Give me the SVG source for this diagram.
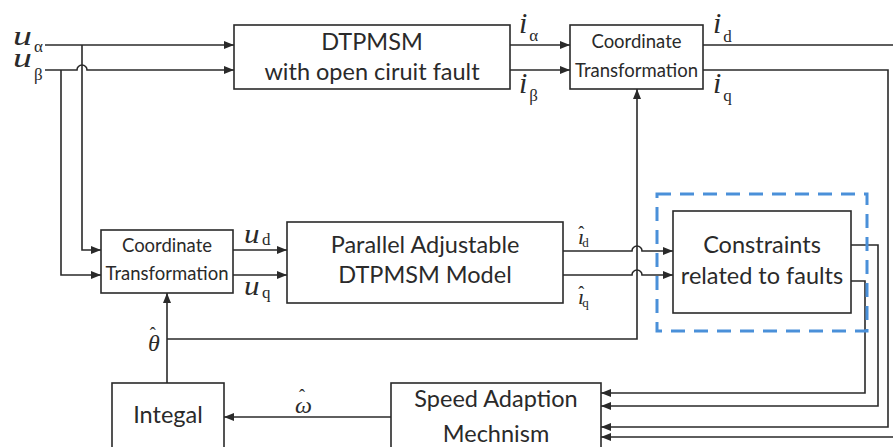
<svg xmlns="http://www.w3.org/2000/svg" width="893" height="447" viewBox="0 0 893 447">
<style>
.box{fill:#fff;stroke:#2a2a2a;stroke-width:1.6}
.ln{fill:none;stroke:#2a2a2a;stroke-width:1.6}
.t{font-family:Lato,"Liberation Sans",sans-serif;font-size:23.5px;fill:#2a2a2a;text-anchor:middle}
.ts{font-family:Lato,"Liberation Sans",sans-serif;font-size:18.5px;fill:#2a2a2a;text-anchor:middle}
.v{font-family:"Liberation Serif",serif;font-style:italic;font-size:30px;fill:#2a2a2a}
.u{font-family:"Liberation Serif",serif;font-style:italic;font-size:27px;fill:#2a2a2a}
.s{font-family:"Liberation Serif",serif;font-style:normal;font-size:17px;fill:#2a2a2a}
.h{font-style:normal;font-size:18px}
</style>
<defs>
<marker id="ar" viewBox="0 0 10 8" refX="10" refY="4" markerWidth="10" markerHeight="8" markerUnits="userSpaceOnUse" orient="auto">
<path d="M0 0L10 4L0 8z" fill="#2a2a2a"/>
</marker>
</defs>
<rect width="893" height="447" fill="#fff"/>
<g id="connectors">
<path class="ln" d="M45 45H234" marker-end="url(#ar)"/>
<path class="ln" d="M45 70H77A5 5 0 0 1 87 70H234" marker-end="url(#ar)"/>
<path class="ln" d="M82 45V250H101" marker-end="url(#ar)"/>
<path class="ln" d="M61 70V275H101" marker-end="url(#ar)"/>
<path class="ln" d="M510 45H570" marker-end="url(#ar)"/>
<path class="ln" d="M510 70H570" marker-end="url(#ar)"/>
<path class="ln" d="M703 45H895V437H601" marker-end="url(#ar)"/>
<path class="ln" d="M703 70H888V427H601" marker-end="url(#ar)"/>
<path class="ln" d="M851 245H878V406H601" marker-end="url(#ar)"/>
<path class="ln" d="M851 281H865V393H601" marker-end="url(#ar)"/>
<path class="ln" d="M233 250H287" marker-end="url(#ar)"/>
<path class="ln" d="M233 275H287" marker-end="url(#ar)"/>
<path class="ln" d="M563 251H632A5 5 0 0 1 642 251H673" marker-end="url(#ar)"/>
<path class="ln" d="M563 275H632A5 5 0 0 1 642 275H673" marker-end="url(#ar)"/>
<path class="ln" d="M167 383V293" marker-end="url(#ar)"/>
<path class="ln" d="M167 339H637V89" marker-end="url(#ar)"/>
<path class="ln" d="M391 417H224" marker-end="url(#ar)"/>
</g>
<g id="dtpmsm"><rect class="box" x="234" y="25" width="276" height="64"/>
<text class="t" x="372" y="50">DTPMSM</text><text class="t" x="372" y="80">with open ciruit fault</text></g>
<g id="coord-top"><rect class="box" x="570" y="25" width="133" height="64"/>
<text class="ts" x="636.5" y="48">Coordinate</text><text class="ts" x="636.5" y="77">Transformation</text></g>
<g id="coord-low"><rect class="box" x="101" y="230" width="132" height="63"/>
<text class="ts" x="167" y="252">Coordinate</text><text class="ts" x="167" y="280">Transformation</text></g>
<g id="parallel"><rect class="box" x="287" y="222" width="276" height="81"/>
<text class="t" x="425" y="253">Parallel Adjustable</text><text class="t" x="425" y="283">DTPMSM Model</text></g>
<g id="constraints"><rect x="657" y="194" width="210" height="137" fill="none" stroke="#4a90d9" stroke-width="3" stroke-dasharray="14 9"/>
<rect class="box" x="673" y="211" width="178" height="102"/>
<text class="t" x="762" y="253">Constraints</text><text class="t" x="762" y="284">related to faults</text></g>
<g id="integal"><rect class="box" x="112" y="383" width="112" height="80"/>
<text class="t" x="168" y="423">Integal</text></g>
<g id="speed"><rect class="box" x="391" y="383" width="210" height="80"/>
<text class="t" x="496" y="407">Speed Adaption</text><text class="t" x="496" y="442">Mechnism</text></g>
<g id="labels">
<text class="u" transform="translate(13 45) scale(1.4 1)">u</text><text class="s" x="34" y="52">α</text>
<text class="u" transform="translate(13 67) scale(1.4 1)">u</text><text class="s" x="34" y="80">β</text>
<text class="v" x="519" y="33">i<tspan class="s" dx="2" dy="8">α</tspan></text>
<text class="v" x="519" y="93">i<tspan class="s" dx="2" dy="8">β</tspan></text>
<text class="v" x="713" y="33">i<tspan class="s" dx="2" dy="9">d</tspan></text>
<text class="v" x="713" y="93">i<tspan class="s" dx="2" dy="8">q</tspan></text>
<text class="u" transform="translate(244 243) scale(1.15 1)">u</text><text class="s" x="262" y="245">d</text>
<text class="u" transform="translate(244 295) scale(1.15 1)">u</text><text class="s" x="262" y="298">q</text>
<text class="v" x="578" y="244" style="font-size:22px">ı<tspan class="h" dx="-6" dy="-5">ˆ</tspan><tspan class="s" style="font-size:13px" dx="-2" dy="8">d</tspan></text>
<text class="v" x="578" y="304" style="font-size:22px">ı<tspan class="h" dx="-6" dy="-5">ˆ</tspan><tspan class="s" style="font-size:13px" dx="-2" dy="8">q</tspan></text>
<text class="v" x="148" y="351" style="font-size:24px">θ<tspan class="h" dx="-10" dy="-11">ˆ</tspan></text>
<text class="v" x="295" y="413" style="font-size:24px">ω<tspan class="h" dx="-13" dy="-11">ˆ</tspan></text>
</g>
</svg>
